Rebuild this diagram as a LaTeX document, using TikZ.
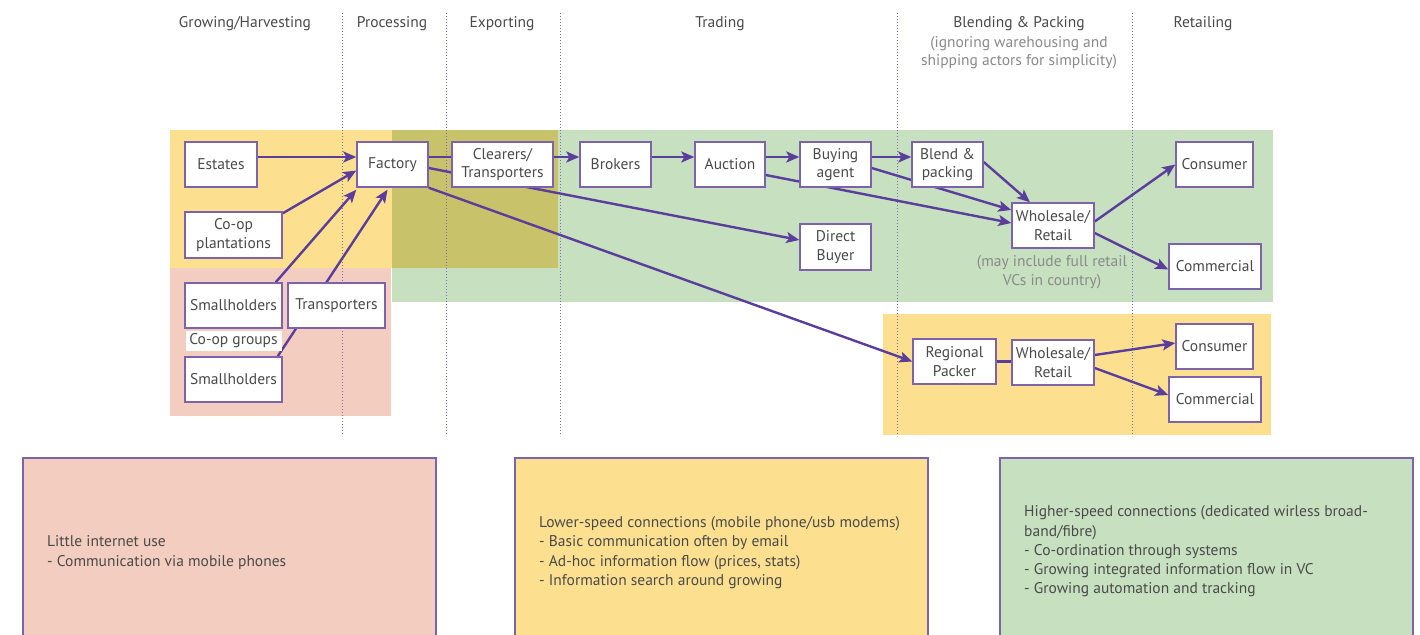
\documentclass[tikz,border=0pt]{standalone}
\usepackage{fontspec}
\setmainfont{PT Sans}
\usetikzlibrary{arrows.meta,calc}
\definecolor{bgyellow}{HTML}{FDE08F}
\definecolor{bgpink}{HTML}{F3CDBF}
\definecolor{bggreen}{HTML}{C7E0C0}
\definecolor{bgolive}{HTML}{C8C26A}
\definecolor{flow}{HTML}{5B3E9C}
\definecolor{edge}{HTML}{7D62AE}
\definecolor{divider}{HTML}{7D6BC0}
\definecolor{txt}{HTML}{4A4A4A}
\definecolor{note}{HTML}{8A8A8A}
\pgfdeclarelayer{bands}
\pgfdeclarelayer{links}
\pgfsetlayers{bands,links,main}
\newcommand{\chartfont}{\fontsize{15.5}{18.5}\selectfont}
\tikzset{
  actor/.style={draw=edge, fill=white, line width=1.4pt, inner sep=0pt,
    align=center, text=txt, font=\chartfont},
  flowline/.style={draw=flow, line width=2.4pt},
  flowarrow/.style={flowline, -{Stealth[length=13pt,width=11pt,inset=3pt]}},
  stage/.style={text=txt, font=\chartfont, align=center},
  subnote/.style={text=note, font=\chartfont, align=center},
  infobox/.style={text=txt, font=\fontsize{15.5}{19.3}\selectfont, align=left, anchor=west, inner sep=0pt},
  colsep/.style={draw=divider, line width=1pt, dash pattern=on 1pt off 2pt},
  panel/.style={draw=edge, line width=1.4pt},
}
\begin{document}
\begin{tikzpicture}[x=1pt,y=-1pt]
\clip (0,0) rectangle (1420,634);

\begin{pgfonlayer}{bands}
\fill[white] (0,0) rectangle (1420,634);
% coloured bands behind the chain
\fill[bggreen]  (392,130) rectangle (1273,302);
\fill[bgolive]  (392,130) rectangle (558,268);
\fill[bgyellow] (170,130) rectangle (392,268);
\fill[bgpink]   (170,268) rectangle (391,416);
\fill[bgyellow] (883,314) rectangle (1271,435);
% stage dividers
\foreach \x in {342,446,560,897,1132}
  \draw[colsep] (\x,13) -- (\x,436);
% information panels
\fill[bgpink]   (23,458) rectangle (436,640);
\draw[panel] (23,640) -- (23,458) -- (436,458) -- (436,640);
\fill[bgyellow] (515,458) rectangle (928,640);
\draw[panel] (515,640) -- (515,458) -- (928,458) -- (928,640);
\fill[bggreen]  (1000,458) rectangle (1413,640);
\draw[panel] (1000,640) -- (1000,458) -- (1413,458) -- (1413,640);
\end{pgfonlayer}

% stage headings
\node[stage] (hGrow) at (245,23.5) {Growing/Harvesting};
\node[stage] (hProc) at (392,23.5) {Processing};
\node[stage] (hExp)  at (502,23.5) {Exporting};
\node[stage] (hTrad) at (720,23.5) {Trading};
\node[stage] (hBlend) at (1019,23.5) {Blending \& Packing};
\node[subnote] (hBlendNote) at (1019,52.5) {(ignoring warehousing and\\shipping actors for simplicity)};
\node[stage] (hRet) at (1203,23.5) {Retailing};

% actors
\node[actor, minimum width=72pt, minimum height=45pt] (est)  at (221,164.5) {Estates};
\node[actor, minimum width=97pt, minimum height=46pt] (coop) at (233.5,235) {Co-op\\plantations};
\node[actor, minimum width=97pt, minimum height=45pt] (sh1)  at (233.5,305.5) {Smallholders};
\node[actor, minimum width=97pt, minimum height=45pt] (trn)  at (336.5,305.5) {Transporters};
\node[fill=white, inner sep=0pt, minimum width=96pt, minimum height=20pt, text=txt,
      font=\chartfont] (cog) at (233.5,341) {Co-op groups};
\node[actor, minimum width=97pt, minimum height=45pt] (sh2)  at (233.5,379.5) {Smallholders};
\node[actor, minimum width=71pt, minimum height=45pt] (fac)  at (392.5,164.5) {Factory};
\node[actor, minimum width=101pt, minimum height=45pt] (clr) at (502.5,164.5) {Clearers/\\Transporters};
\node[actor, minimum width=71pt, minimum height=45pt] (brk)  at (615.5,164.5) {Brokers};
\node[actor, minimum width=70pt, minimum height=45pt] (auc)  at (730,164.5) {Auction};
\node[actor, minimum width=71pt, minimum height=45pt] (buy)  at (835.5,164.5) {Buying\\agent};
\node[actor, minimum width=71pt, minimum height=46pt] (dir)  at (835.5,247) {Direct\\Buyer};
\node[actor, minimum width=71pt, minimum height=45pt] (bln)  at (947.5,164.5) {Blend \&\\packing};
\node[actor, minimum width=82pt, minimum height=45pt] (ws1)  at (1053,225.5) {Wholesale/\\Retail};
\node[subnote] (ws1note) at (1052,272) {(may include full retail\\VCs in country)};
\node[actor, minimum width=77pt, minimum height=45pt] (con1) at (1214.5,164.5) {Consumer};
\node[actor, minimum width=92pt, minimum height=45pt] (com1) at (1215,266.5) {Commercial};
\node[actor, minimum width=83pt, minimum height=45pt] (rp)   at (954.5,361.5) {Regional\\Packer};
\node[actor, minimum width=82pt, minimum height=45pt] (ws2)  at (1053,362.5) {Wholesale/\\Retail};
\node[actor, minimum width=77pt, minimum height=45pt] (con2) at (1214.5,346.5) {Consumer};
\node[actor, minimum width=92pt, minimum height=45pt] (com2) at (1215,399.5) {Commercial};

% information panel texts
\node[infobox] (pinkText) at (47,552.5) {Little internet use\\- Communication via mobile phones};
\node[infobox] (yellowText) at (539,552.5) {Lower-speed connections (mobile phone/usb modems)\\- Basic communication often by email\\- Ad-hoc information flow (prices, stats)\\- Information search around growing};
\node[infobox] (greenText) at (1024,551.5) {Higher-speed connections (dedicated wirless broad-\\band/fibre)\\- Co-ordination through systems\\- Growing integrated information flow in VC\\- Growing automation and tracking};

% flows
\begin{pgfonlayer}{links}
\draw[flowarrow] (est.east |- 0,157) -- (fac.west |- 0,157);
\draw[flowarrow] ($(coop.north east)+(0,2)$) -- ($(fac.west)+(0,6)$);
\draw[flowarrow] ($(sh1.north east)+(-7,0)$) -- ($(fac.south west)+(0,2)$);
\draw[flowarrow] ($(sh2.north east)+(-5,0)$) -- ($(fac.south)+(-5,2)$);
\draw[flowline]  (fac.east |- 0,157) -- (clr.west |- 0,157);
\draw[flowarrow] (clr.east |- 0,157) -- (brk.west |- 0,157);
\draw[flowarrow] ($(fac.east)+(0,3.5)$) -- ($(dir.west)+(0,-7)$);
\draw[flowarrow] (fac.south east) -- (rp.west);
\draw[flowarrow] (brk.east |- 0,157) -- (auc.west |- 0,157);
\draw[flowarrow] (auc.east |- 0,157) -- (buy.west |- 0,157);
\draw[flowarrow] (buy.east |- 0,157) -- (bln.west |- 0,157);
\draw[flowarrow] ($(auc.east)+(0,10.5)$) -- ($(ws1.west)+(0,-2.5)$);
\draw[flowarrow] ($(buy.east)+(0,3.5)$) -- ($(ws1.west)+(0,-15.5)$);
\draw[flowarrow] ($(bln.east)+(0,-2.5)$) -- ($(ws1.north)+(-23,0)$);
\draw[flowarrow] ($(ws1.east)+(0,-4)$) -- (con1.west);
\draw[flowarrow] ($(ws1.east)+(0,7.5)$) -- ($(com1.west)+(0,3)$);
\draw[flowline]  (rp.east) -- (ws2.west |- rp.east);
\draw[flowarrow] ($(ws2.east)+(0,-7.5)$) -- ($(con2.west)+(0,-3.5)$);
\draw[flowarrow] ($(ws2.east)+(0,5.5)$) -- ($(com2.west)+(0,-4.5)$);
\end{pgfonlayer}
\end{tikzpicture}
\end{document}
